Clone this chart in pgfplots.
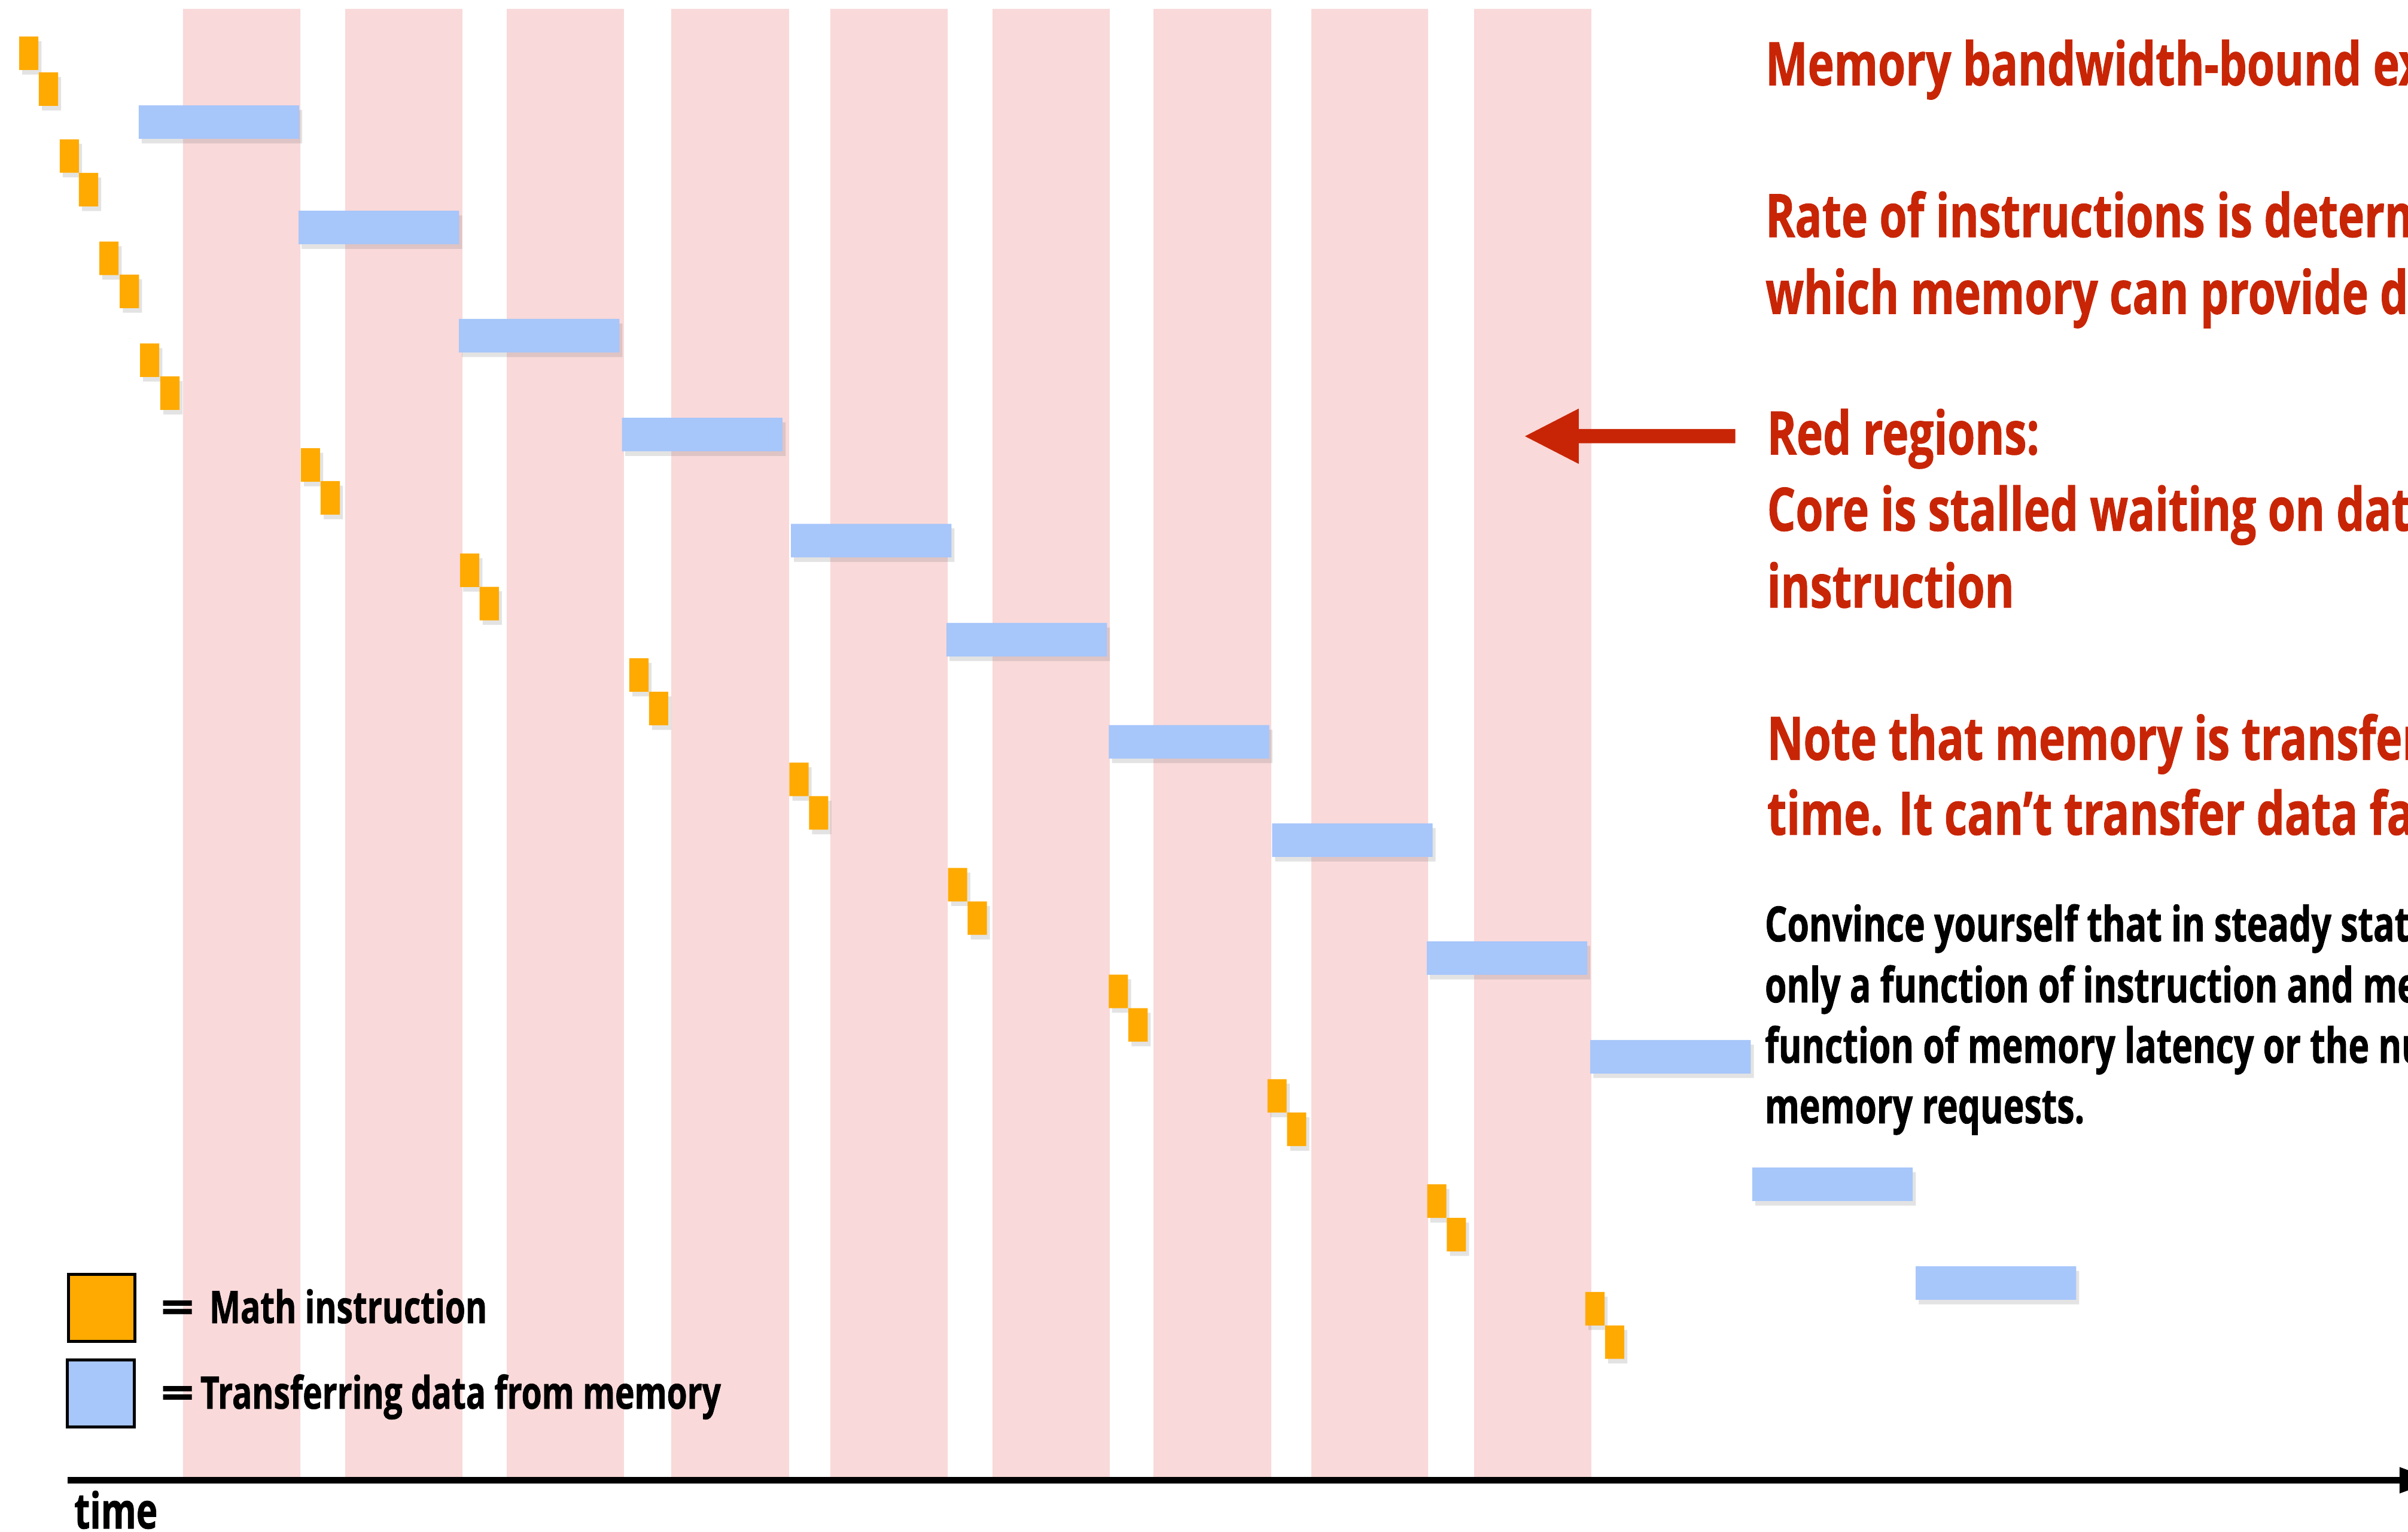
\documentclass[border=0pt]{standalone}
\usepackage{pgfplots}
\pgfplotsset{compat=1.18}
\usepackage{fontspec}
\usetikzlibrary{shadows}
\newfontfamily\condR{Open Sans}[FakeStretch=0.745,FakeBold=1]
\newfontfamily\condB{Open Sans}[FakeStretch=0.725,FakeBold=1]
\newfontfamily\condL{Open Sans}[FakeStretch=0.735,FakeBold=1]
\newfontfamily\condE{Open Sans}[FakeStretch=1.3,FakeBold=1]
\definecolor{bandpink}{RGB}{249,217,217}
\definecolor{instr}{RGB}{255,170,0}
\definecolor{mem}{RGB}{167,198,250}
\definecolor{slidered}{RGB}{200,37,6}
\tikzset{
  redtxt/.style={anchor=base west, inner sep=0pt, text=slidered, font=\condR\bfseries\fontsize{11.1}{13}\selectfont},
  blktxt/.style={anchor=base west, inner sep=0pt, text=black, font=\condB\bfseries\fontsize{9}{11}\selectfont},
  legtxt/.style={anchor=base west, inner sep=0pt, text=black, font=\condL\bfseries\fontsize{8.3}{10}\selectfont},
  eqtxt/.style={anchor=base west, inner sep=0pt, text=black, font=\condE\bfseries\fontsize{8.3}{10}\selectfont},
  softshadow/.style={drop shadow={shadow xshift=0.2mm, shadow yshift=-0.3mm, opacity=0.18, fill=black!60}},
}
\begin{document}
\begin{tikzpicture}
\useasboundingbox (0,0) rectangle (15.68cm,9.97cm);
\clip (0,0) rectangle (15.68cm,9.97cm);
\begin{axis}[
  at={(0,0)}, anchor=south west,
  scale only axis, width=15.68cm, height=9.97cm,
  xmin=0, xmax=1568, ymin=0, ymax=997, y dir=reverse,
  hide axis, clip=false,
  unbounded coords=jump,
]
% stall regions (red bands)
\addplot[fill=bandpink, draw=none] coordinates {
(119.2,5.8) (195.6,5.8) (195.6,961.4) (119.2,961.4) (nan,nan)
(224.8,5.8) (301.1,5.8) (301.1,961.4) (224.8,961.4) (nan,nan)
(330.0,5.8) (406.3,5.8) (406.3,961.4) (330.0,961.4) (nan,nan)
(437.1,5.8) (513.8,5.8) (513.8,961.4) (437.1,961.4) (nan,nan)
(540.7,5.8) (617.1,5.8) (617.1,961.4) (540.7,961.4) (nan,nan)
(646.3,5.8) (722.6,5.8) (722.6,961.4) (646.3,961.4) (nan,nan)
(751.1,5.8) (827.8,5.8) (827.8,961.4) (751.1,961.4) (nan,nan)
(853.9,5.8) (929.9,5.8) (929.9,961.4) (853.9,961.4) (nan,nan)
(959.9,5.8) (1036.2,5.8) (1036.2,961.4) (959.9,961.4)
};
% math instructions
\addplot[fill=instr, draw=none, softshadow] coordinates {
(12.5,23.8) (25.0,23.8) (25.0,45.6) (12.5,45.6) (nan,nan)
(25.3,47.1) (37.8,47.1) (37.8,68.9) (25.3,68.9) (nan,nan)
(38.9,90.7) (51.4,90.7) (51.4,112.5) (38.9,112.5) (nan,nan)
(51.4,112.6) (63.9,112.6) (63.9,134.4) (51.4,134.4) (nan,nan)
(64.7,157.3) (77.2,157.3) (77.2,179.1) (64.7,179.1) (nan,nan)
(78.0,178.8) (90.5,178.8) (90.5,200.6) (78.0,200.6) (nan,nan)
(91.2,223.6) (103.7,223.6) (103.7,245.4) (91.2,245.4) (nan,nan)
(104.4,245.0) (116.9,245.0) (116.9,266.8) (104.4,266.8) (nan,nan)
(195.9,291.8) (208.4,291.8) (208.4,313.6) (195.9,313.6) (nan,nan)
(208.8,313.2) (221.3,313.2) (221.3,335.0) (208.8,335.0) (nan,nan)
(299.6,360.3) (312.1,360.3) (312.1,382.1) (299.6,382.1) (nan,nan)
(312.3,382.0) (324.8,382.0) (324.8,403.8) (312.3,403.8) (nan,nan)
(409.8,428.5) (422.3,428.5) (422.3,450.3) (409.8,450.3) (nan,nan)
(422.6,450.3) (435.1,450.3) (435.1,472.1) (422.6,472.1) (nan,nan)
(514.0,496.5) (526.5,496.5) (526.5,518.3) (514.0,518.3) (nan,nan)
(526.8,518.3) (539.3,518.3) (539.3,540.1) (526.8,540.1) (nan,nan)
(617.3,565.0) (629.8,565.0) (629.8,586.8) (617.3,586.8) (nan,nan)
(630.1,586.8) (642.6,586.8) (642.6,608.6) (630.1,608.6) (nan,nan)
(722.0,634.5) (734.5,634.5) (734.5,656.3) (722.0,656.3) (nan,nan)
(734.8,656.3) (747.3,656.3) (747.3,678.1) (734.8,678.1) (nan,nan)
(825.3,702.5) (837.8,702.5) (837.8,724.3) (825.3,724.3) (nan,nan)
(838.1,724.3) (850.6,724.3) (850.6,746.1) (838.1,746.1) (nan,nan)
(929.3,771.0) (941.8,771.0) (941.8,792.8) (929.3,792.8) (nan,nan)
(942.1,792.8) (954.6,792.8) (954.6,814.6) (942.1,814.6) (nan,nan)
(1032.3,841.0) (1044.8,841.0) (1044.8,862.8) (1032.3,862.8) (nan,nan)
(1045.1,862.8) (1057.6,862.8) (1057.6,884.6) (1045.1,884.6)
};
% memory transfers
\addplot[fill=mem, draw=none, softshadow] coordinates {
(90.3,68.6) (194.8,68.6) (194.8,90.4) (90.3,90.4) (nan,nan)
(194.4,137.2) (298.9,137.2) (298.9,159.0) (194.4,159.0) (nan,nan)
(298.8,207.6) (403.3,207.6) (403.3,229.4) (298.8,229.4) (nan,nan)
(405.0,272.0) (509.5,272.0) (509.5,293.8) (405.0,293.8) (nan,nan)
(515.0,341.0) (619.5,341.0) (619.5,362.8) (515.0,362.8) (nan,nan)
(616.3,405.5) (720.8,405.5) (720.8,427.3) (616.3,427.3) (nan,nan)
(722.0,472.0) (826.5,472.0) (826.5,493.8) (722.0,493.8) (nan,nan)
(828.3,536.0) (932.8,536.0) (932.8,557.8) (828.3,557.8) (nan,nan)
(929.0,612.8) (1033.5,612.8) (1033.5,634.6) (929.0,634.6) (nan,nan)
(1035.5,677.0) (1140.0,677.0) (1140.0,698.8) (1035.5,698.8) (nan,nan)
(1141.0,760.0) (1245.5,760.0) (1245.5,781.8) (1141.0,781.8) (nan,nan)
(1247.4,824.3) (1351.9,824.3) (1351.9,846.1) (1247.4,846.1)
};
% time axis
\addplot[black, line width=1.22pt] coordinates {(44,963.6) (1563,963.6)};
\addplot[fill=black, draw=none] coordinates {(1562.5,955.0) (1586,963.6) (1562.5,972.2)} -- cycle;
% red arrow
\addplot[fill=slidered, draw=none] coordinates {
(1130,279.3) (1028,279.3) (1028,266) (993,284) (1028,302) (1028,288.5) (1130,288.5)} -- cycle;
% legend boxes
\addplot[fill=instr, draw=black, line width=0.55pt] coordinates {(44.5,829.5) (87.8,829.5) (87.8,873.3) (44.5,873.3)} -- cycle;
\addplot[fill=mem, draw=black, line width=0.55pt] coordinates {(44.0,885.2) (87.3,885.2) (87.3,929.0) (44.0,929.0)} -- cycle;
% texts
\node[redtxt] at (axis cs:1149,55.5) {Memory bandwidth-bound execution};
\node[redtxt] at (axis cs:1149,154.3) {Rate of instructions is determined by the rate at};
\node[redtxt] at (axis cs:1149,204.3) {which memory can provide data.};
\node[redtxt] at (axis cs:1150,295.8) {Red regions:};
\node[redtxt] at (axis cs:1150,345.5) {Core is stalled waiting on data for next};
\node[redtxt] at (axis cs:1150,395.5) {instruction};
\node[redtxt] at (axis cs:1150,494.6) {Note that memory is transferring data 100\% of the};
\node[redtxt] at (axis cs:1150,543.4) {time. It can’t transfer data faster.};
\node[blktxt] at (axis cs:1148.5,612.8) {Convince yourself that in steady state, the execution rate is};
\node[blktxt] at (axis cs:1148.5,652.5) {only a function of instruction and memory throughput, not a};
\node[blktxt] at (axis cs:1148.5,691.9) {function of memory latency or the number of outstanding};
\node[blktxt] at (axis cs:1148.5,731.2) {memory requests.};
\node[eqtxt] at (axis cs:104,861.3) {=};
\node[legtxt] at (axis cs:135.7,861.3) {Math instruction};
\node[eqtxt] at (axis cs:104,917) {=};
\node[legtxt] at (axis cs:129.8,917) {Transferring data from memory};
\node[anchor=base west, inner sep=0pt, font=\condB\bfseries\fontsize{9.2}{11}\selectfont] at (axis cs:47.7,995) {time};
\end{axis}
\end{tikzpicture}
\end{document}
